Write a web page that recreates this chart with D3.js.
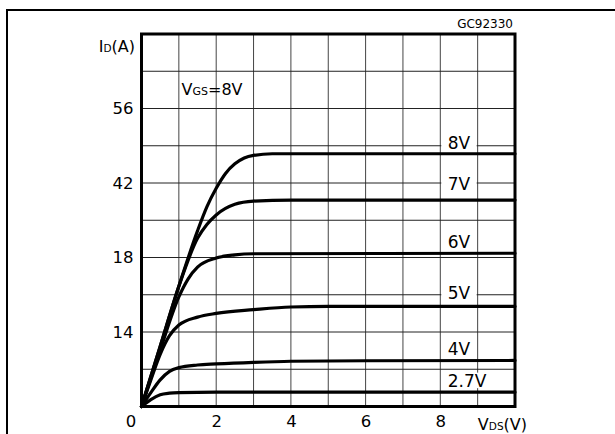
<!DOCTYPE html>
<html><head><meta charset="utf-8">
<script src="https://cdn.jsdelivr.net/npm/d3@7"></script>
<style>
body{margin:0;background:#fff}
svg{display:block}
text{font-family:"DejaVu Sans",sans-serif;fill:#000}
</style>
</head><body>
<svg id="c" width="615" height="434"></svg>
<script>
// ---- data ----
const xTicks = [0, 2, 4, 6, 8];
const yTicks = [14, 28, 42, 56];
const yTickLabels = ["14", "18", "42", "56"];
const gateLabels = ["8V", "7V", "6V", "5V", "4V", "2.7V"];
const vgs8V  = [[0,0],[0.5,11.3],[1,22.6],[1.5,33],[1.75,37.5],[2,41],[2.25,43.8],[2.5,45.6],[2.75,46.7],[3,47.2],[3.5,47.5],[10,47.5]];
const vgs7V  = [[0,0],[0.5,11.3],[1,22.6],[1.5,31.6],[1.75,34.2],[2,36],[2.5,38],[3,38.6],[4,38.8],[10,38.8]];
const vgs6V  = [[0,0],[0.5,10.6],[1,20.6],[1.25,24],[1.5,26.2],[2,27.9],[2.5,28.5],[3,28.7],[10,28.8]];
const vgs5V  = [[0,0],[0.25,5],[0.5,9.8],[0.75,13.3],[1,15.3],[1.5,16.8],[2,17.5],[3,18.2],[4,18.7],[5,18.8],[10,18.8]];
const vgs4V  = [[0,0],[0.25,2.6],[0.5,5],[0.75,6.6],[1,7.3],[1.5,7.8],[2,8.0],[3,8.3],[4,8.5],[6,8.6],[10,8.65]];
const vgs27V = [[0,0],[0.25,1.3],[0.5,2.2],[0.75,2.5],[1,2.6],[2,2.7],[10,2.7]];
const series = [vgs8V, vgs7V, vgs6V, vgs5V, vgs4V, vgs27V];

// ---- layout ----
const svg = d3.select("#c");
const x = d3.scaleLinear().domain([0, 10]).range([141.5, 515]);
const y = d3.scaleLinear().domain([0, 70]).range([406.5, 34]);

// outer frame
svg.append("path").attr("d", "M7,434V10H615").attr("fill", "none").attr("stroke", "#000").attr("stroke-width", 2);

// grid
const g = svg.append("g");
g.selectAll(".vg").data(d3.range(1, 10)).join("line")
  .attr("x1", d => x(d)).attr("x2", d => x(d)).attr("y1", y(70)).attr("y2", y(0))
  .attr("stroke", "#444").attr("stroke-width", 1);
g.selectAll(".hg").data(d3.range(7, 70, 7)).join("line")
  .attr("y1", d => y(d)).attr("y2", d => y(d)).attr("x1", x(0)).attr("x2", x(10))
  .attr("stroke", "#222").attr("stroke-width", 1);

// label backgrounds
const labelDy = [-3, -9, -4, -6, -4, -4];
const plateau = series.map(s => s[s.length - 1][1]);
const lx = x(8) + 7.5;
const labels = svg.append("g");
const bgs = labels.selectAll("rect").data(gateLabels).join("rect").attr("fill", "#fff");
// curves
const line = d3.line().x(d => x(d[0])).y(d => y(d[1])).curve(d3.curveMonotoneX);
svg.append("g").selectAll("path").data(series).join("path")
  .attr("d", line).attr("fill", "none").attr("stroke", "#000").attr("stroke-width", 3.2)
  .attr("stroke-linejoin", "round").attr("stroke-linecap", "round");

const texts = svg.append("g").selectAll("text").data(gateLabels).join("text")
  .attr("x", lx).attr("y", (d, i) => y(plateau[i]) - 1.5 + labelDy[i])
  .attr("font-size", 17).text(d => d);
texts.each(function(d, i) {
  const b = this.getBBox();
  const base = y(plateau[i]) - 1.5 + labelDy[i];
  const x2 = Math.max(x(9) - 1, b.x + b.width + 2);
  d3.select(bgs.nodes()[i]).attr("x", x(8) + 1).attr("width", x2 - x(8) - 1)
    .attr("y", base - 14).attr("height", 15.5);
});

// axes
const ax = svg.append("g").attr("transform", `translate(0,${y(0)})`)
  .call(d3.axisBottom(x).tickValues(xTicks).tickSize(0).tickPadding(0).tickFormat(d3.format("d")));
ax.select(".domain").remove();
ax.selectAll("text").attr("font-size", 16.5).attr("font-family", "DejaVu Sans").attr("fill", "#000")
  .attr("dy", null).attr("y", 20.5)
  .attr("dx", d => d === 0 ? -11 : 0);

const ay = svg.append("g").attr("transform", `translate(${x(0)},0)`)
  .call(d3.axisLeft(y).tickValues(yTicks).tickSize(0).tickPadding(8).tickFormat((d, i) => yTickLabels[i]));
ay.select(".domain").remove();
ay.selectAll("text").attr("font-size", 16.5).attr("font-family", "DejaVu Sans").attr("fill", "#000");

// plot border
svg.append("rect").attr("x", x(0)).attr("y", y(70)).attr("width", x(10) - x(0)).attr("height", y(0) - y(70))
  .attr("fill", "none").attr("stroke", "#000").attr("stroke-width", 3);

// axis titles
const ty = svg.append("text").attr("x", 135).attr("y", 51.5).attr("text-anchor", "end").attr("font-size", 16);
ty.append("tspan").text("I");
ty.append("tspan").attr("font-size", 10.5).text("D");
ty.append("tspan").text("(A)");

const tx = svg.append("text").attr("x", 527).attr("y", 430).attr("text-anchor", "end").attr("font-size", 16);
tx.append("tspan").text("V");
tx.append("tspan").attr("font-size", 10.5).text("DS");
tx.append("tspan").text("(V)");

const tv = svg.append("text").attr("x", 181.5).attr("y", 95).attr("font-size", 16);
tv.append("tspan").text("V");
tv.append("tspan").attr("font-size", 11).text("GS");
tv.append("tspan").text("=8V");

svg.append("text").attr("x", 513).attr("y", 28.3).attr("text-anchor", "end").attr("font-size", 12).text("GC92330");
</script>
</body></html>
